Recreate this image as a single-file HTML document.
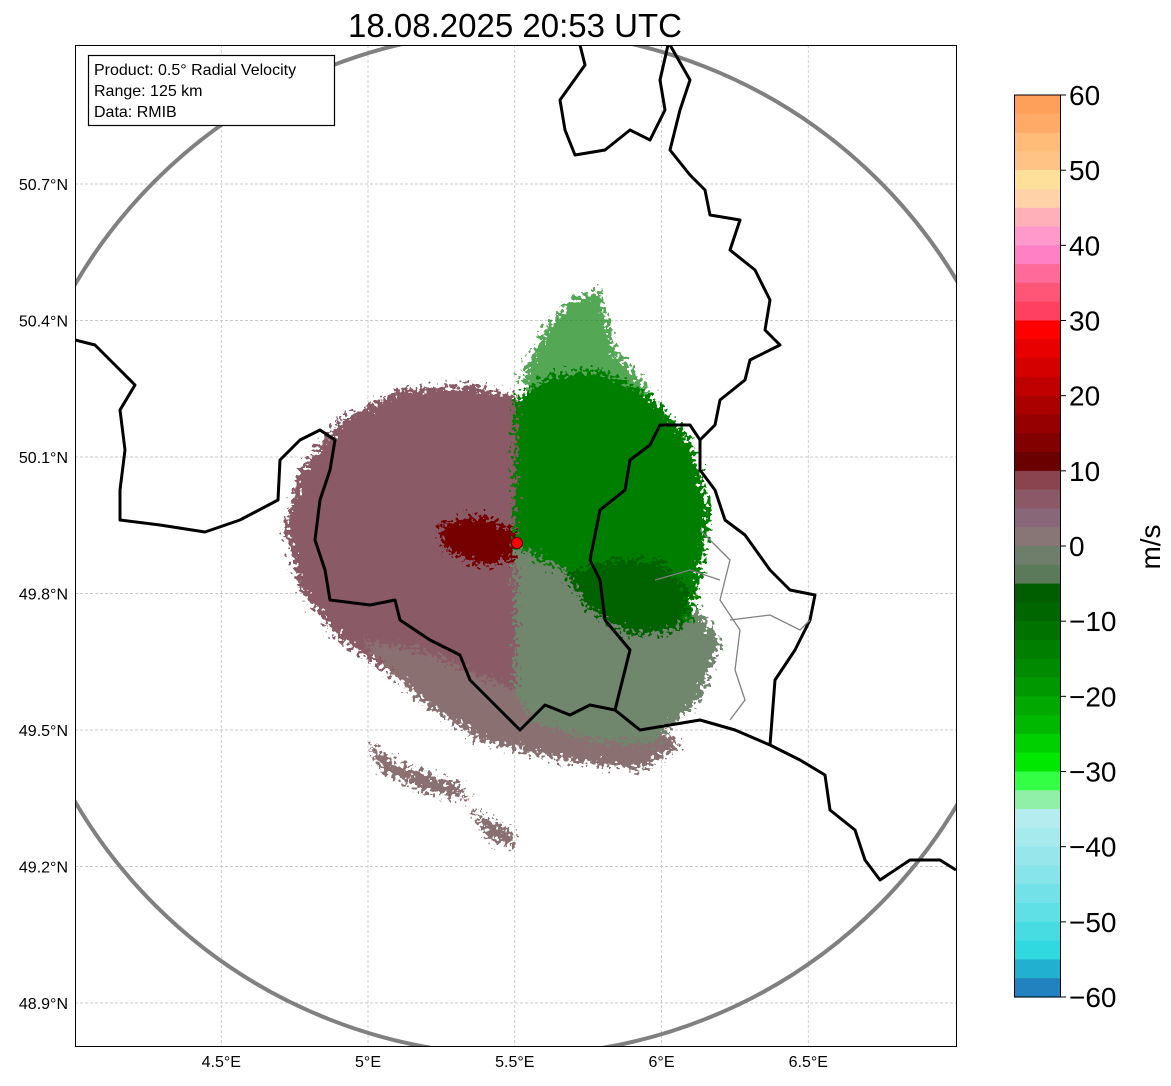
<!DOCTYPE html>
<html><head><meta charset="utf-8"><style>
body{margin:0;background:#fff;width:1171px;height:1081px;overflow:hidden;font-family:"Liberation Sans",sans-serif}
</style></head><body>
<svg id="chart" width="1171" height="1081" xmlns="http://www.w3.org/2000/svg" font-family="Liberation Sans, sans-serif">
<defs>
<filter id="rag" x="-20%" y="-20%" width="140%" height="140%">
<feTurbulence type="fractalNoise" baseFrequency="0.25" numOctaves="2" seed="3" result="n"/>
<feDisplacementMap in="SourceGraphic" in2="n" scale="28" xChannelSelector="R" yChannelSelector="G"/>
</filter>
<clipPath id="ax"><rect x="75" y="45" width="881" height="1001"/></clipPath>
</defs>
<text x="515" y="37" font-size="33" text-anchor="middle">18.08.2025 20:53 UTC</text>
<g id="grid"></g>
<g clip-path="url(#ax)">
<g filter="url(#rag)">
<path fill="#8a5a66" d="M515,395 L470,385 L400,390 L340,420 L300,470 L285,530 L300,590 L340,640 L400,680 L460,700 L515,705 Z"/>
<path fill="#8b6f72" d="M360,640 L420,700 L480,740 L560,760 L640,770 L680,745 L620,700 L515,690 L420,650 Z"/>
<path fill="#6f866d" d="M515,545 L600,560 L680,590 L720,640 L700,700 L650,745 L590,740 L530,720 L515,690 Z"/>
<path fill="#1a8a1a" opacity="0.75" d="M520,380 L545,330 L570,300 L600,290 L615,350 L650,390 L600,410 L540,400 Z"/>
<path fill="#007e00" d="M515,545 L515,400 L550,375 L600,370 L650,395 L690,440 L710,510 L700,580 L690,620 L640,630 L590,580 L540,560 Z"/>
<path fill="#006400" d="M565,575 L610,560 L660,560 L690,590 L680,630 L630,635 L590,610 Z"/>
<path fill="#760000" d="M440,525 L480,515 L515,530 L515,560 L480,565 L445,550 Z"/>
<path fill="#8a7070" d="M370,745 L400,765 L460,785 L470,800 L420,790 L380,770 Z M470,810 L510,830 L515,845 L490,840 Z"/>
</g>
<circle cx="517" cy="543" r="512" fill="none" stroke="#808080" stroke-width="4"/>
<g fill="none" stroke="#000" stroke-width="3" stroke-linejoin="round">
<polyline points="580,45 585,65 560,100 565,130 575,155 605,150 630,130 650,140 665,110 660,80 668,45"/>
<polyline points="670,45 690,80 680,110 670,150 690,175 705,190 710,215 740,220 730,250 755,270 770,300 765,330 780,345 750,360 745,380 720,400 715,425 700,440 690,425 660,425 650,445 630,460 625,490 600,510 590,560 600,580 605,620 630,650 620,690 615,710 590,705 570,715 545,705 520,730 500,710 470,680 460,655 430,640 400,620 395,600 370,605 330,600 325,570 315,540 320,500 330,470 335,440 320,430 300,440 280,460 278,500 240,520 205,532 160,525 120,520 120,490 125,450 120,410 135,385 115,365 95,345 75,340"/>
<polyline points="700,440 700,470 715,490 725,520 745,535 770,570 790,590 815,595 810,620 795,650 775,680 770,745 735,730 700,720 640,730 615,710"/>
<polyline points="770,745 800,760 825,775 830,810 855,830 865,860 880,880 910,860 940,860 956,870"/>
</g>
<g fill="none" stroke="#808080" stroke-width="1.3">
<polyline points="700,530 730,560 720,600 740,630 735,670 745,700 730,720"/>
<polyline points="730,620 770,615 800,630 810,620"/>
<polyline points="655,580 690,570 720,580"/>
</g>
<circle cx="517" cy="543" r="5.5" fill="#f00" stroke="#600" stroke-width="1"/>
</g>
<rect x="75.5" y="45.5" width="881" height="1001" fill="none" stroke="#000" stroke-width="1"/>
<g id="ticks"></g>
<g>
<rect x="88.5" y="55.5" width="246" height="70" fill="#fff" stroke="#000" stroke-width="1.2"/>
<text x="94" y="75" font-size="16">Product: 0.5° Radial Velocity</text>
<text x="94" y="96" font-size="16">Range: 125 km</text>
<text x="94" y="117" font-size="16">Data: RMIB</text>
</g>
<g id="cbar"></g>
<text transform="translate(1160,547) rotate(-90)" font-size="28" text-anchor="middle">m/s</text>
</svg>
<script>
const lonTicks=[4.5,5,5.5,6,6.5];
const latTicks=[50.7,50.4,50.1,49.8,49.5,49.2,48.9];
const cbarTicks=[60,50,40,30,20,10,0,-10,-20,-30,-40,-50,-60];
const cbarColors=["#ffa05a","#ffaa66","#ffbb77","#ffc485","#ffe09a","#ffd2a8","#ffb0b8","#ff99cc","#ff80c4","#ff6a9a","#ff5577","#ff4060",
"#ff0000","#e80000","#d40000","#c00000","#aa0000","#960000","#820000","#6a0000",
"#8a4450","#8a5866","#886878","#887575","#6e7e6a","#5a7a5a",
"#005e00","#006600","#007200","#007e00","#008a00","#009800","#00a800","#00b800","#00d000","#00e800",
"#33ff44","#90f0a8",
"#b4ecf0","#a6eaee","#96e6ec","#86e4ea","#72e2e8","#5ee0e6","#46dce2","#30d8e0","#22b0d0","#2282c0"];
const NS="http://www.w3.org/2000/svg";
const xOf=lon=>368+(lon-5)*293.5;
const yOf=lat=>184+(50.7-lat)*455;
const cTop=95,cBot=997,vMax=60,vMin=-60;
const cY=v=>cTop+(vMax-v)/(vMax-vMin)*(cBot-cTop);
function mk(tag,attrs,parent){const e=document.createElementNS(NS,tag);for(const k in attrs)e.setAttribute(k,attrs[k]);parent.appendChild(e);return e;}
const grid=document.getElementById('grid'),ticks=document.getElementById('ticks'),cbar=document.getElementById('cbar');
lonTicks.forEach(l=>{const x=xOf(l);
const g=mk('line',{x1:x,x2:x,y1:45,y2:1046,stroke:'#bbb','stroke-width':0.7,'stroke-dasharray':'3,2'},grid);


const t=mk('text',{x:x,y:1067,'font-size':16,'text-anchor':'middle'},ticks);t.textContent=l+'°E';

});
latTicks.forEach(l=>{const y=yOf(l);
const g=mk('line',{x1:75,x2:956,y1:y,y2:y,stroke:'#bbb','stroke-width':0.7,'stroke-dasharray':'3,2'},grid);


const t=mk('text',{x:68,y:y+6,'font-size':16,'text-anchor':'end'},ticks);t.textContent=l.toFixed(1)+'°N';

});
const step=(vMax-vMin)/cbarColors.length;
cbarColors.forEach((c,i)=>{const v0=vMax-i*step,v1=v0-step;
const r=mk('rect',{x:1014,y:cY(v0),width:46,height:cY(v1)-cY(v0)+0.6,fill:c},cbar);

});
const fr=mk('rect',{x:1014.5,y:cTop,width:46,height:cBot-cTop,fill:'none',stroke:'#000','stroke-width':1},cbar);


cbarTicks.forEach(v=>{const y=cY(v);
mk('line',{x1:1060,x2:1066,y1:y,y2:y,stroke:'#000','stroke-width':1},cbar);
const t=mk('text',{x:1069,y:y+10,'font-size':28},cbar);t.textContent=v<0?'\u2212'+(-v):String(v);

});
</script>
</body></html>
